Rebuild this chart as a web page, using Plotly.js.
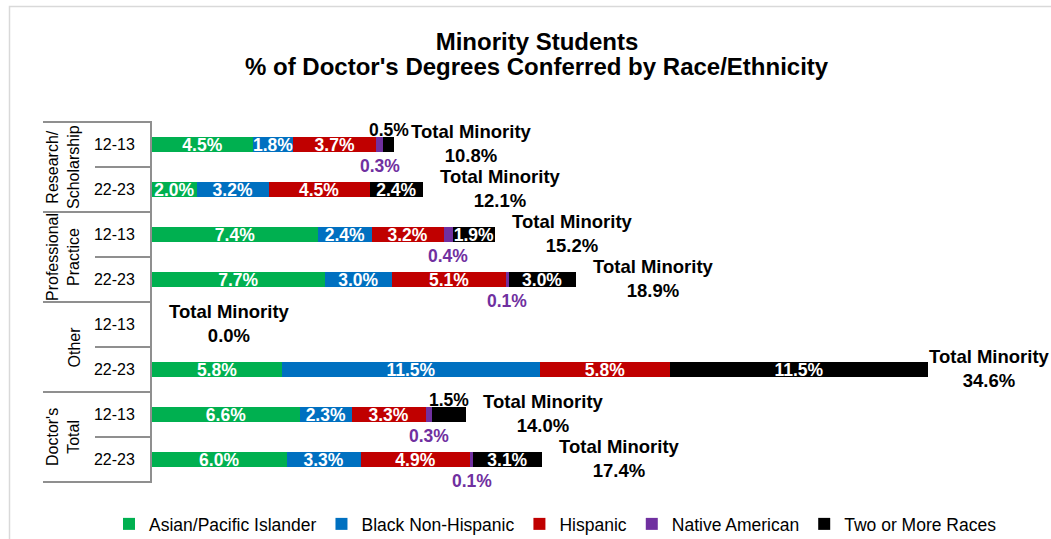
<!DOCTYPE html>
<html>
<head>
<meta charset="utf-8">
<script src="https://cdn.plot.ly/plotly-3.0.1.min.js"></script>
<style>
  html, body { margin: 0; padding: 0; background: #ffffff; }
  #chart { width: 1051px; height: 539px; }
</style>
</head>
<body>
<div id="chart"></div>
<script>
// ---------- data ----------
const groups = ["Research/<br>Scholarship", "Professional<br>Practice", "Other", "Doctor's<br>Total"];
const years = ["12-13", "22-23"];
const seriesNames = ["Asian/Pacific Islander", "Black Non-Hispanic", "Hispanic", "Native American", "Two or More Races"];
const asian    = [4.5, 2.0, 7.4, 7.7, 0.0, 5.8, 6.6, 6.0];
const black    = [1.8, 3.2, 2.4, 3.0, 0.0, 11.5, 2.3, 3.3];
const hispanic = [3.7, 4.5, 3.2, 5.1, 0.0, 5.8, 3.3, 4.9];
const nativeAm = [0.3, 0.0, 0.4, 0.1, 0.0, 0.0, 0.3, 0.1];
const twoMore  = [0.5, 2.4, 1.9, 3.0, 0.0, 11.5, 1.5, 3.1];
const totals   = [10.8, 12.1, 15.2, 18.9, 0.0, 34.6, 14.0, 17.4];

// ---------- styling ----------
const FONT = "Arial, 'Liberation Sans', Helvetica, sans-serif";
const colors = ["#00B050", "#0070C0", "#C00000", "#7030A0", "#000000"];
const lineColor = "#8f8f8f";

// category ids (one per bar row)
const cats = [];
groups.forEach((g) => years.forEach(y => { cats.push(g.replace("<br>", " ") + " | " + y); }));
const tickText = cats.map((c, i) => years[i % years.length]);
const n = cats.length;

const fmt = v => v.toFixed(1) + "%";
const seriesVals = [asian, black, hispanic, nativeAm, twoMore];

// which labels sit inside a bar
function insideText(vals, si) {
  return vals.map(v => {
    if (v <= 0) return "";
    if (si === 3) return "";             // Native American labels go below the bar
    if (si === 4 && v < 1.6) return "";  // small Two-or-More labels go above the bar
    return "<b>" + fmt(v) + "</b>";
  });
}

const traces = seriesVals.map((vals, si) => ({
  type: "bar",
  orientation: "h",
  name: seriesNames[si],
  y: cats,
  x: vals,
  marker: { color: colors[si], line: { width: 0 } },
  text: insideText(vals, si),
  textposition: "inside",
  insidetextanchor: "middle",
  textangle: 0,
  constraintext: "none",
  textfont: { family: FONT, size: 17.5, color: "#ffffff" },
  hoverinfo: "x+name"
}));

const annotations = [];
// outside labels
cats.forEach((c, i) => {
  const base3 = asian[i] + black[i] + hispanic[i];
  if (nativeAm[i] > 0) {
    annotations.push({
      x: base3 + nativeAm[i] / 2, y: c, xref: "x", yref: "y",
      text: "<b>" + fmt(nativeAm[i]) + "</b>", showarrow: false,
      xanchor: "center", yanchor: "middle", yshift: -21,
      font: { family: FONT, size: 17.5, color: colors[3] }
    });
  }
  if (twoMore[i] > 0 && twoMore[i] < 1.6) {
    annotations.push({
      x: base3 + nativeAm[i] + twoMore[i] / 2, y: c, xref: "x", yref: "y",
      text: "<b>" + fmt(twoMore[i]) + "</b>", showarrow: false,
      xanchor: "center", yanchor: "middle", yshift: 15,
      font: { family: FONT, size: 17.5, color: "#000000" }
    });
  }
  // total minority label
  const sum = base3 + nativeAm[i] + twoMore[i];
  annotations.push({
    x: sum, y: c, xref: "x", yref: "y",
    text: "<b>Total Minority<br>" + fmt(totals[i]) + "</b>", showarrow: false,
    xanchor: "left", yanchor: "middle", align: "center",
    xshift: sum > 30 ? -1 : 15, yshift: 1,
    font: { family: FONT, size: 18.5, color: "#000000" }
  });
});

// pixel helpers (plot area: x 152..1049, y 122..482)
const L = 152, R = 2, T = 122, B = 57, W = 1051 - L - R, H = 539 - T - B;
const px2paperX = p => (p - L) / W;
const px2paperY = p => (T + H - p) / H;
const idx2paperY = k => 1 - (k + 0.5) / n;

// group labels (rotated)
groups.forEach((g, gi) => {
  annotations.push({
    xref: "paper", yref: "paper",
    x: px2paperX(84), y: idx2paperY(gi * years.length + (years.length - 1) / 2),
    text: g, showarrow: false, textangle: -90,
    xanchor: "right", yanchor: "middle", align: "center",
    font: { family: FONT, size: 16, color: "#000000" }
  });
});

// second title line
annotations.push({
  xref: "paper", yref: "paper",
  x: px2paperX(537), y: px2paperY(66),
  text: "<b>% of Doctor's Degrees Conferred by Race/Ethnicity</b>", showarrow: false,
  xanchor: "center", yanchor: "middle",
  font: { family: FONT, size: 24, color: "#000000" }
});

// divider lines of the category table
const shapes = [];
for (let k = 0; k <= n; k++) {
  const yy = idx2paperY(k - 0.5);
  const full = (k % years.length === 0);
  shapes.push({
    type: "line", xref: "paper", yref: "paper",
    x0: px2paperX(full ? 43 : 95), x1: 0, y0: yy, y1: yy,
    line: { color: lineColor, width: 2 }
  });
}
// chart outer border
shapes.push({
  type: "rect", xref: "paper", yref: "paper", layer: "below",
  x0: px2paperX(9.5), x1: 1.2, y0: -0.5, y1: px2paperY(6.5),
  line: { color: "#d9d9d9", width: 1.5 }, fillcolor: "rgba(0,0,0,0)"
});

const layout = {
  width: 1051, height: 539,
  margin: { l: L, r: R, t: T, b: B, pad: 0, autoexpand: false },
  paper_bgcolor: "#ffffff", plot_bgcolor: "#ffffff",
  barmode: "stack",
  bargap: 0.645,
  font: { family: FONT, color: "#000000" },
  title: {
    text: "<b>Minority Students</b>",
    xref: "container", yref: "container",
    x: 537 / 1051, y: 1 - 42 / 539, xanchor: "center", yanchor: "middle",
    font: { family: FONT, size: 24, color: "#000000" }
  },
  xaxis: {
    range: [0, 40], showgrid: false, zeroline: false, showticklabels: false,
    showline: false, ticks: "", fixedrange: true
  },
  yaxis: {
    type: "category", categoryorder: "array", categoryarray: cats,
    range: [n - 0.5, -0.5],
    tickmode: "array", tickvals: cats, ticktext: tickText,
    ticks: "", ticklabelstandoff: 12,
    tickfont: { family: FONT, size: 16, color: "#000000" },
    showgrid: false, zeroline: false,
    showline: true, linecolor: lineColor, linewidth: 2, fixedrange: true
  },
  showlegend: true,
  legend: {
    orientation: "h", traceorder: "normal",
    xref: "paper", yref: "paper",
    x: px2paperX(109), xanchor: "left",
    y: px2paperY(524), yanchor: "middle",
    itemwidth: 30,
    font: { family: FONT, size: 17.5, color: "#000000" },
    bgcolor: "rgba(0,0,0,0)"
  },
  annotations: annotations,
  shapes: shapes
};

Plotly.newPlot("chart", traces, layout, { displayModeBar: false, staticPlot: true });
</script>
</body>
</html>
